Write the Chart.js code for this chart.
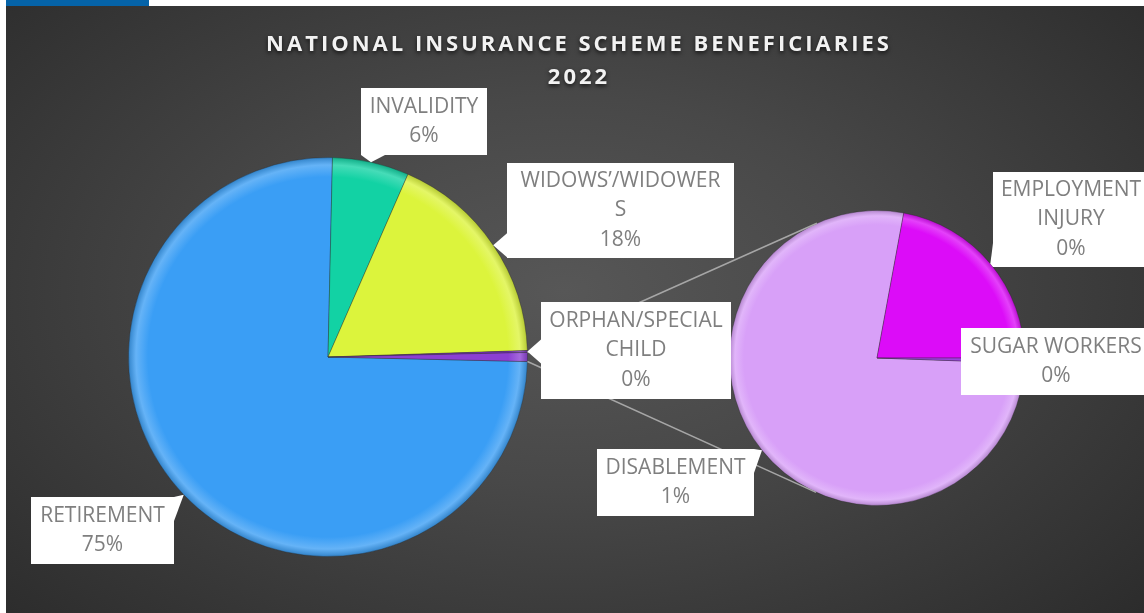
<!DOCTYPE html>
<html lang="en">
<head>
<meta charset="UTF-8">
<title>National Insurance Scheme Beneficiaries 2022</title>
<style>
  body { margin: 0; background: #fff; }
  #wrap { position: relative; width: 1144px; height: 613px; overflow: hidden; }
  #topbar { position: absolute; left: 6px; top: 0; width: 143px; height: 6px; background: #0563a8; }
  #panel { position: absolute; left: 6px; top: 6px; width: 1138px; height: 607px;
    background: radial-gradient(ellipse 70% 80% at 49% 47%, #575757 0%, #484848 40%, #2b2b2b 100%); }
  canvas { position: absolute; left: 0; top: 0; }
</style>
</head>
<body>
<div id="wrap">
  <div id="topbar"></div>
  <div id="panel"></div>
  <canvas id="mainPie" width="1144" height="613"></canvas>
  <canvas id="subPie" width="1144" height="613"></canvas>
</div>

<script src="https://cdn.jsdelivr.net/npm/chart.js"></script>
<script>
// main pie categories (share of beneficiaries, %)
const mainLabels = ['RETIREMENT', 'INVALIDITY', 'WIDOWS’/WIDOWERS', 'ORPHAN/SPECIAL CHILD'];
const mainValues = [74.9, 6.2, 17.9, 0.15];
// split out into the second pie
const subLabels = ['DISABLEMENT', 'EMPLOYMENT INJURY', 'SUGAR WORKERS'];
const subValues = [0.56, 0.16, 0.004];

const mainColors = ['#3a9ef5', '#12d2a4', '#dcf43c', '#7a2fc0', '#8b3fd3'];
const subColors = ['#d8a0f8', '#dc0cf8', '#a040e0'];

const titleLines = ['NATIONAL INSURANCE SCHEME BENEFICIARIES', '2022'];

// label boxes (layout only)
const boxes = {
  'RETIREMENT': { x: 31, y: 497, w: 143, h: 67 },
  'INVALIDITY': { x: 361, y: 88, w: 126, h: 67 },
  'WIDOWS’/WIDOWERS': { x: 507, y: 163, w: 227, h: 95, wrap: 205 },
  'ORPHAN/SPECIAL CHILD': { x: 541, y: 302, w: 190, h: 97 },
  'DISABLEMENT': { x: 597, y: 449, w: 157, h: 67 },
  'EMPLOYMENT INJURY': { x: 993, y: 172, w: 156, h: 95 },
  'SUGAR WORKERS': { x: 961, y: 328, w: 190, h: 67 }
};

const otherValue = subValues.reduce((a, b) => a + b, 0);
const pieValues = mainValues.concat([otherValue]);
const total = pieValues.reduce((a, b) => a + b, 0);
// put the "other" slice centred at 3 o'clock
const mainRotation = 90 - (total - otherValue / 2) / total * 360;

function pct(v) { return Math.round(v / total * 100) + '%'; }

function shade(hex, amt) {
  const n = parseInt(hex.slice(1), 16);
  let r = n >> 16, g = (n >> 8) & 255, b = n & 255;
  const t = amt < 0 ? 0 : 255, p = Math.abs(amt);
  r = Math.round(r + (t - r) * p);
  g = Math.round(g + (t - g) * p);
  b = Math.round(b + (t - b) * p);
  return 'rgb(' + r + ',' + g + ',' + b + ')';
}

function sliceFill(context, colors) {
  const base = colors[context.dataIndex];
  const area = context.chart.chartArea;
  if (!area) return base;
  const cx = (area.left + area.right) / 2, cy = (area.top + area.bottom) / 2;
  const r = Math.min(area.right - area.left, area.bottom - area.top) / 2;
  const g = context.chart.ctx.createRadialGradient(cx, cy, 0, cx, cy, r);
  g.addColorStop(0, base);
  g.addColorStop(0.9, base);
  g.addColorStop(0.96, shade(base, 0.22));
  g.addColorStop(1, shade(base, -0.18));
  return g;
}

function wrapText(ctx, text, maxW) {
  const lines = [];
  let line = '';
  text.split(' ').forEach(word => {
    const test = line ? line + ' ' + word : word;
    if (ctx.measureText(test).width <= maxW) { line = test; return; }
    if (line) lines.push(line);
    line = word;
    while (ctx.measureText(line).width > maxW) {
      let n = line.length - 1;
      while (n > 1 && ctx.measureText(line.slice(0, n)).width > maxW) n--;
      lines.push(line.slice(0, n));
      line = line.slice(n);
    }
  });
  if (line) lines.push(line);
  return lines;
}

function arcTip(arc) {
  const p = arc.getProps(['x', 'y', 'startAngle', 'endAngle', 'outerRadius'], true);
  const a = (p.startAngle + p.endAngle) / 2;
  return { x: p.x + p.outerRadius * Math.cos(a), y: p.y + p.outerRadius * Math.sin(a) };
}

function drawCallout(ctx, name, value, tip) {
  const b = boxes[name];
  ctx.fillStyle = '#ffffff';
  let side = null;
  if (tip.x < b.x) side = 'left';
  else if (tip.x > b.x + b.w) side = 'right';
  else if (tip.y < b.y) side = 'top';
  else if (tip.y > b.y + b.h) side = 'bottom';
  if (side) {
    ctx.beginPath();
    ctx.moveTo(tip.x, tip.y);
    if (side === 'left' || side === 'right') {
      const ex = side === 'left' ? b.x : b.x + b.w;
      const c = Math.min(Math.max(tip.y, b.y + 12), b.y + b.h - 12);
      ctx.lineTo(ex, c - 12);
      ctx.lineTo(ex, c + 12);
    } else {
      const ey = side === 'top' ? b.y : b.y + b.h;
      const c = Math.min(Math.max(tip.x, b.x + 12), b.x + b.w - 12);
      ctx.lineTo(c - 12, ey);
      ctx.lineTo(c + 12, ey);
    }
    ctx.closePath();
    ctx.fill();
  }
  ctx.fillRect(b.x, b.y, b.w, b.h);

  ctx.font = '21px "Open Sans"';
  ctx.fillStyle = '#7f7f7f';
  ctx.textAlign = 'center';
  ctx.textBaseline = 'middle';
  const lines = wrapText(ctx, name, b.wrap || b.w - 8).concat([pct(value)]);
  const lh = 29.5;
  const y0 = b.y + b.h / 2 - (lines.length - 1) * lh / 2;
  lines.forEach((t, i) => ctx.fillText(t, b.x + b.w / 2, y0 + i * lh));
}

function tangentPoint(p, c, r, upper) {
  const dx = p.x - c.x, dy = p.y - c.y;
  const d = Math.sqrt(dx * dx + dy * dy);
  const phi = Math.atan2(dy, dx);
  const al = Math.acos(r / d);
  const t1 = { x: c.x + r * Math.cos(phi + al), y: c.y + r * Math.sin(phi + al) };
  const t2 = { x: c.x + r * Math.cos(phi - al), y: c.y + r * Math.sin(phi - al) };
  if (upper) return t1.y < t2.y ? t1 : t2;
  return t1.y > t2.y ? t1 : t2;
}

const mainChart = new Chart(document.getElementById('mainPie'), {
  type: 'pie',
  data: {
    labels: mainLabels.concat(['OTHER']),
    datasets: [{
      data: pieValues,
      backgroundColor: c => sliceFill(c, mainColors),
      borderWidth: 1,
      borderColor: 'rgba(40,40,40,0.35)'
    }]
  },
  options: {
    responsive: false,
    animation: false,
    rotation: mainRotation,
    layout: { padding: { left: 128, top: 157, right: 616, bottom: 56 } },
    plugins: { legend: { display: false }, tooltip: { enabled: false } }
  }
});

const overlay = {
  id: 'overlay',
  afterDraw(chart) {
    const ctx = chart.ctx;
    ctx.save();

    // title
    ctx.font = 'bold 22px "Open Sans"';
    if ('letterSpacing' in ctx) ctx.letterSpacing = '3px';
    ctx.textAlign = 'center';
    ctx.textBaseline = 'middle';
    ctx.fillStyle = '#f2f2f2';
    ctx.shadowColor = 'rgba(0,0,0,0.7)';
    ctx.shadowBlur = 4;
    ctx.shadowOffsetY = 2;
    ctx.fillText(titleLines[0], 579, 45);
    ctx.fillText(titleLines[1], 579, 78);
    ctx.shadowColor = 'transparent';
    if ('letterSpacing' in ctx) ctx.letterSpacing = '0px';

    // connector lines from the "other" slice to the second pie
    const mArcs = mainChart.getDatasetMeta(0).data;
    const o = mArcs[mArcs.length - 1].getProps(['x', 'y', 'startAngle', 'endAngle', 'outerRadius'], true);
    const s = chart.getDatasetMeta(0).data[0].getProps(['x', 'y', 'outerRadius'], true);
    const p1 = { x: o.x + o.outerRadius * Math.cos(o.startAngle), y: o.y + o.outerRadius * Math.sin(o.startAngle) };
    const p2 = { x: o.x + o.outerRadius * Math.cos(o.endAngle), y: o.y + o.outerRadius * Math.sin(o.endAngle) };
    const q1 = tangentPoint(p1, s, s.outerRadius, true);
    const q2 = tangentPoint(p2, s, s.outerRadius, false);
    ctx.strokeStyle = '#a6a6a6';
    ctx.lineWidth = 1.5;
    ctx.beginPath();
    ctx.moveTo(p1.x, p1.y); ctx.lineTo(q1.x, q1.y);
    ctx.moveTo(p2.x, p2.y); ctx.lineTo(q2.x, q2.y);
    ctx.stroke();

    // data labels
    mainLabels.forEach((name, i) => drawCallout(ctx, name, mainValues[i], arcTip(mArcs[i])));
    const sArcs = chart.getDatasetMeta(0).data;
    subLabels.forEach((name, i) => drawCallout(ctx, name, subValues[i], arcTip(sArcs[i])));
    ctx.restore();
  }
};

new Chart(document.getElementById('subPie'), {
  type: 'pie',
  data: {
    labels: subLabels,
    datasets: [{
      data: subValues,
      backgroundColor: c => sliceFill(c, subColors),
      borderWidth: 1,
      borderColor: 'rgba(40,40,40,0.35)'
    }]
  },
  options: {
    responsive: false,
    animation: false,
    rotation: 92,
    layout: { padding: { left: 729, top: 210, right: 119, bottom: 107 } },
    plugins: { legend: { display: false }, tooltip: { enabled: false } }
  },
  plugins: [overlay]
});
</script>
</body>
</html>
